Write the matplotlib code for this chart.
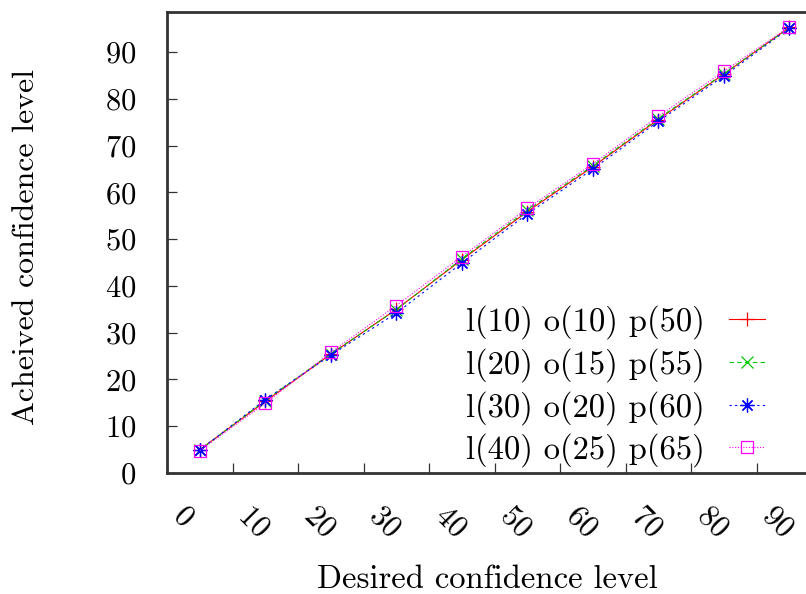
#!/usr/bin/env python3
# -*- coding: utf-8 -*-
"""
Achieved vs desired confidence level
"""

import matplotlib
matplotlib.use("Agg")
import matplotlib.pyplot as plt
import matplotlib.transforms as mtransforms

plt.rcParams["font.family"] = ["cmr10", "DejaVu Serif"]
plt.rcParams["axes.formatter.use_mathtext"] = True

# data
desired = [5, 15, 25, 35, 45, 55, 65, 75, 85, 95]
achieved_l10 = [5.0, 15.3, 25.4, 35.0, 45.6, 55.9, 65.5, 75.6, 85.3, 95.3]
achieved_l20 = [4.9, 15.5, 25.5, 34.9, 45.8, 56.2, 65.7, 75.8, 85.4, 95.2]
achieved_l30 = [4.9, 15.7, 25.2, 34.2, 44.9, 55.4, 65.0, 75.2, 84.9, 95.1]
achieved_l40 = [4.8, 14.9, 25.8, 35.8, 46.3, 56.6, 66.1, 76.3, 85.9, 95.4]

labels = [
    "l(10) o(10) p(50)",
    "l(20) o(15) p(55)",
    "l(30) o(20) p(60)",
    "l(40) o(25) p(65)",
]
xticks = [0, 10, 20, 30, 40, 50, 60, 70, 80, 90]
yticks = [0, 10, 20, 30, 40, 50, 60, 70, 80, 90]

W, H = 806, 594
fig = plt.figure(figsize=(W / 100, H / 100), dpi=100)

# axis box (right edge runs off the picture, as in the original)
x0, y0, y1 = 167, 473, 12
xw = 655
ax = fig.add_axes([x0 / W, (H - y0) / H, xw / W, (y0 - y1) / H])

ax.plot(desired, achieved_l10, color="#ff0000", linestyle="-",
        marker="+", markersize=10, markeredgewidth=0.9, linewidth=0.8,
        label=labels[0])
ax.plot(desired, achieved_l20, color="#00c800", linestyle=(0, (4, 3)),
        marker="x", markersize=8, markeredgewidth=0.9, linewidth=0.8,
        label=labels[1])
ax.plot(desired, achieved_l30, color="#0000ff", linestyle=(0, (2, 3)),
        marker=(8, 2, 0), markersize=10, markeredgewidth=0.9, linewidth=0.8,
        label=labels[2])
ax.plot(desired, achieved_l40, color="#ff00ff", linestyle=(0, (1, 1.5)),
        marker="s", markersize=9, markerfacecolor="none",
        markeredgewidth=0.9, linewidth=0.8, label=labels[3])

ax.set_xlim(0, 100)
ax.set_ylim(0, 98.6)
ax.set_xticks(xticks)
ax.set_yticks(yticks)

for side in ["left", "bottom", "top"]:
    ax.spines[side].set_linewidth(2.0)
    ax.spines[side].set_color("#333333")
ax.spines["right"].set_visible(False)

ax.tick_params(direction="in", length=7, width=0.9, color="#333333",
               labelsize=22, top=False, right=False)
ax.tick_params(axis="y", pad=22)
ax.tick_params(axis="x", pad=27)

offset = mtransforms.ScaledTranslation(10 / 100, 0, fig.dpi_scale_trans)
for lab in ax.get_xticklabels():
    lab.set_rotation(-45)
    lab.set_ha("left")
    lab.set_va("center")
    lab.set_rotation_mode("anchor")
    lab.set_transform(lab.get_transform() + offset)

ax.set_xlabel("Desired confidence level", fontsize=23.5)
ax.xaxis.label.set_va("center")
ax.xaxis.set_label_coords((487 - x0) / xw, -(579 - y0) / (y0 - y1))

ax.set_ylabel("Acheived confidence level", fontsize=23)
ax.yaxis.label.set_va("center")
ax.yaxis.set_label_coords((26 - x0) / xw, (y0 - 247) / (y0 - y1))

ax.legend(
    loc="upper right",
    bbox_to_anchor=(765 / W, 1 - 305 / H),
    bbox_transform=fig.transFigure,
    frameon=False,
    fontsize=23.5,
    markerfirst=False,
    borderpad=0,
    borderaxespad=0,
    handlelength=1.1,
    handletextpad=0.75,
    labelspacing=0.27,
)

plt.savefig("out.png", dpi=100)
